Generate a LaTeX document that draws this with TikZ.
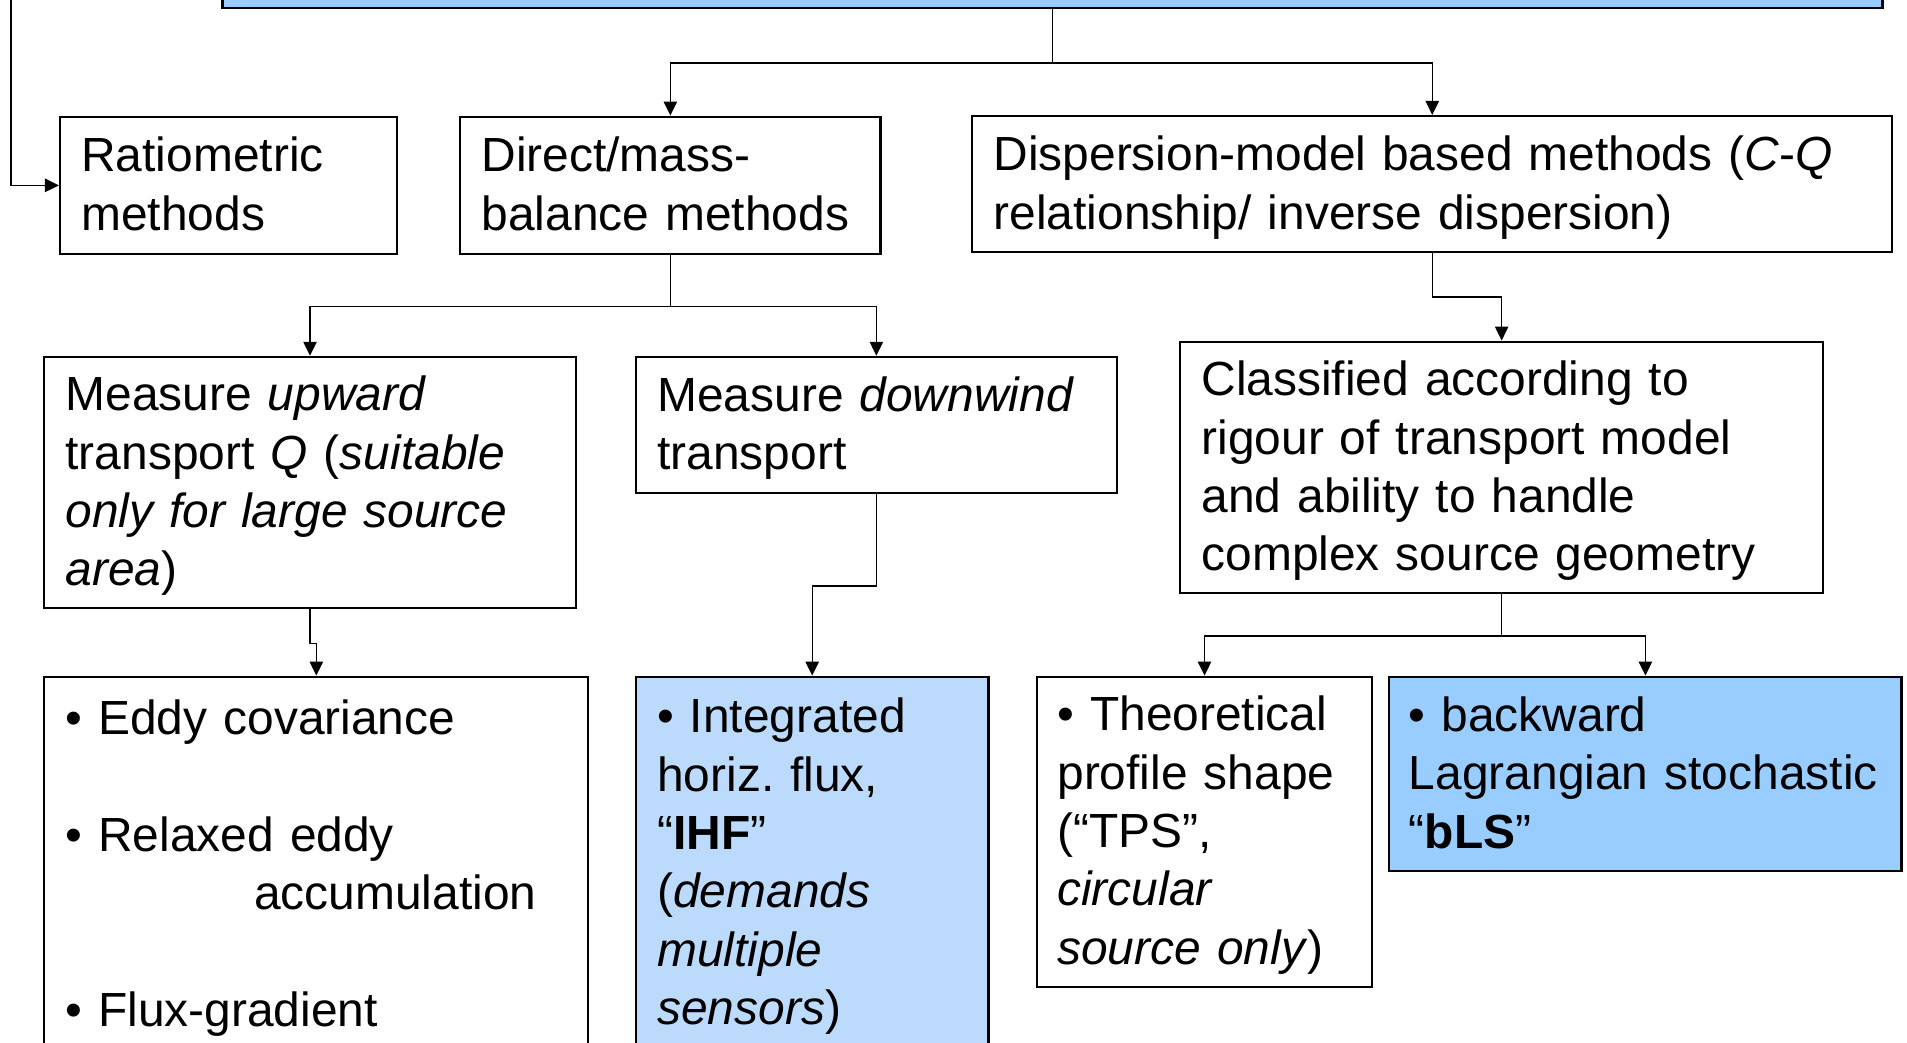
\documentclass[tikz,border=0pt]{standalone}
\usepackage{fontspec}
\setmainfont{Liberation Sans}
\usetikzlibrary{arrows.meta}

\definecolor{boxblue}{RGB}{153,204,255}
\definecolor{paleblue}{RGB}{188,219,252}

\frenchspacing

\begin{document}
\begin{tikzpicture}[x=1pt,y=-1pt]
        \useasboundingbox (0,0) rectangle (1568,857);

        \begin{scope}[every node/.style={draw=black,line width=1.8pt,anchor=north west,align=left,
                    inner xsep=17.5pt,inner ysep=0pt,font=\fontsize{39.4pt}{48pt}\selectfont,
                    execute at begin node=\rule{0pt}{35pt},
                    execute at end node=\rule[-9pt]{0pt}{9pt}}]
            \node[fill=boxblue,minimum width=1365pt,minimum height=65.5pt,inner sep=0pt] (top) at (182,-60) {};

            \node[text width=242pt,minimum height=113pt] (ratio) at (48.5,95) {Ratiometric\\ methods};
            \node[text width=310.6pt,minimum height=113pt] (direct) at (377.5,95) {Direct/mass-\\ balance methods};
            \node[text width=721.5pt,minimum height=112pt] (disp) at (798.5,94.5)
                {Dispersion-model based methods (\textit{C}-\textit{Q}\\ relationship/ inverse dispersion)};

            \node[text width=402pt,minimum height=206.5pt] (upward) at (35.5,292.5)
                {Measure \textit{upward}\\ transport \textit{Q} (\textit{suitable}\\ \textit{only for large source}\\ \textit{area})};
            \node[text width=360.4pt,minimum height=112pt] (down) at (522,292.5) {Measure \textit{downwind}\\ transport};
            \node[text width=493.6pt,minimum height=207pt] (class) at (969.5,280)
                {Classified according to\\ rigour of transport model\\ and ability to handle\\ complex source geometry};

            \node[text width=412.4pt,minimum height=309pt] (eddy) at (35.5,555.5)
                {• Eddy covariance\\[48pt] • Relaxed eddy\\ \hspace*{155pt}accumulation\\[48pt] • Flux-gradient};
            \node[fill=paleblue,text width=254.8pt,minimum height=306pt] (ihf) at (522,555.5)
                {• Integrated\\ horiz. flux,\\ “\textbf{IHF}”\\ (\textit{demands}\\ \textit{multiple}\\ \textit{sensors})};
            \node[text width=242pt,minimum height=255pt,inner xsep=17pt] (tps) at (851.5,555.5)
                {• Theoretical\\ profile shape\\ (“TPS”,\\ \textit{circular}\\ \textit{source only})};
            \node[fill=boxblue,text width=389pt,minimum height=160pt,inner xsep=16pt] (bls) at (1141.5,555.5)
                {• backward\\ Lagrangian stochastic\\ “\textbf{bLS}”};
        \end{scope}

        \coordinate (lside) at (9,0);

        \begin{scope}[>={Triangle[length=11.5pt,width=11pt]},line width=1.1pt]
            \draw[->] (top.west) -| (lside) |- (ratio.west);
            \draw[->] (top.south) -- ++(0,44.5) -| (direct.north);
            \draw[->] (top.south) -- ++(0,44.5) -| (disp.north);
            \draw[->] (direct.south) -- ++(0,42) -| (upward.north);
            \draw[->] (direct.south) -- ++(0,42) -| (down.north);
            \draw[->] (disp.south) -- ++(0,36) -| (class.north);
            \draw[->] (upward.south) -- ++(0,28.5) -| (eddy.north);
            \draw[->] (down.south) -- ++(0,75.5) -| (ihf.north);
            \draw[->] (class.south) -- ++(0,34) -| (tps.north);
            \draw[->] (class.south) -- ++(0,34) -| (bls.north);
        \end{scope}
    \end{tikzpicture}
\end{document}
